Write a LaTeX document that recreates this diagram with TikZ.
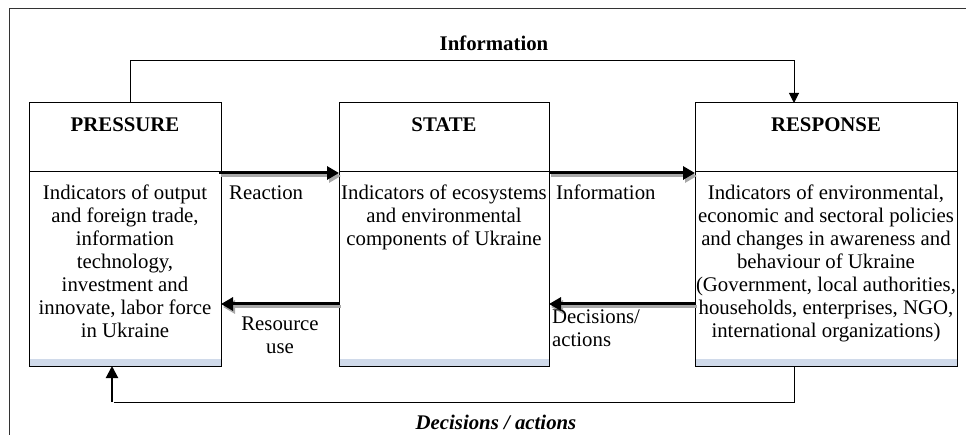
\documentclass[tikz,border=0pt]{standalone}
\usepackage{fontspec}
\setmainfont{Liberation Serif}
\usetikzlibrary{arrows.meta}
\definecolor{band}{HTML}{D0DAEA}
\definecolor{shade}{HTML}{A8A8A8}
\newcommand{\fs}{\fontsize{20.8}{23}\selectfont}
\tikzset{
  boxframe/.style={draw=black, line width=1pt},
  bodytext/.style={anchor=north, align=center, inner sep=0pt, font=\fs},
  headtext/.style={anchor=center, inner sep=0pt, font=\fs\bfseries},
  lbl/.style={inner sep=0pt, font=\fs},
  thickarrow/.style={line width=3pt, -{Triangle[length=12pt,width=13pt]}},
  shadowarrow/.style={line width=3pt, draw=shade, -{Triangle[length=12pt,width=13pt]}},
  thinline/.style={line width=1pt},
}
\begin{document}
\begin{tikzpicture}[x=1pt,y=-1pt]
\useasboundingbox (0,0) rectangle (966,435);
% outer frame (top and left only)
\draw[line width=1pt, draw=black!80] (9,435) -- (9,9) -- (966,9);

% boxes
\foreach \n/\xa/\xb in {P/29/221, S/339/549, R/695/957}{
  \fill[band] (\xa,359) rectangle (\xb,366);
  \draw[boxframe] (\xa,103) rectangle (\xb,366);
  \draw[boxframe] (\xa,172) -- (\xb,172);
  \coordinate (\n nw) at (\xa,103);
}
\coordinate (Ptop) at (130,103);
\coordinate (Rtop) at (794,103);
\coordinate (Pbot) at (112,366);
\coordinate (Rbot) at (794,366);
\coordinate (Ptl) at (130,61);
\coordinate (Rtl) at (794,61);
\coordinate (Rbl) at (794,402);
\coordinate (Pbl) at (112,402);

% headings
\node[headtext] (hP) at (125,125) {PRESSURE};
\node[headtext] (hS) at (444,125) {STATE};
\node[headtext] (hR) at (826,125) {RESPONSE};

% bodies
\node[bodytext] (bP) at (125,185) {Indicators of output\\and foreign trade,\\information\\technology,\\investment and\\innovate, labor force\\in Ukraine};
\node[bodytext] (bS) at (444,185) {Indicators of ecosystems\\and environmental\\components of Ukraine};
\node[bodytext] (bR) at (826,185) {Indicators of environmental,\\economic and sectoral policies\\and changes in awareness and\\behaviour of Ukraine\\(Government, local authorities,\\households, enterprises, NGO,\\international organizations)};

% horizontal arrow anchor points
\coordinate (aP1) at (219,173);
\coordinate (aS1) at (339,173);
\coordinate (aS2) at (549,173);
\coordinate (aR2) at (695,173);
\coordinate (bS1) at (339,304);
\coordinate (bP1) at (221,304);
\coordinate (bR2) at (695,304);
\coordinate (bS2) at (549,304);

% shadows
\draw[shadowarrow] ([shift={(2,3)}]aP1) -- ([shift={(2,3)}]aS1);
\draw[shadowarrow] ([shift={(2,3)}]aS2) -- ([shift={(2,3)}]aR2);
\draw[shadowarrow] ([shift={(2,3)}]bS1) -- ([shift={(2,3)}]bP1);
\draw[shadowarrow] ([shift={(2,3)}]bR2) -- ([shift={(2,3)}]bS2);
% arrows
\draw[thickarrow] (aP1) -- (aS1);
\draw[thickarrow] (aS2) -- (aR2);
\draw[thickarrow] (bS1) -- (bP1);
\draw[thickarrow] (bR2) -- (bS2);

% arrow labels
\node[lbl, anchor=base west] (lReact) at (229,200) {Reaction};
\node[lbl, anchor=base west] (lInfo) at (556,200) {Information};
\node[lbl, anchor=north, align=center] (lRes) at (280,317) {Resource\\use};
\node[lbl, anchor=north west, align=left] (lDec) at (552,310) {Decisions/\\actions};

% feedback loops
\draw[thinline, -{Triangle[length=10pt,width=10pt]}] (Ptop) -- (Ptl) -- (Rtl) -- (Rtop);
\node[lbl, font=\fs\bfseries] (lTop) at (494,43) {Information};
\draw[thinline] (Rbot) -- (Rbl) -- (114,402);
\draw[line width=2pt, -{Triangle[length=12pt,width=12pt]}] (Pbl) -- (Pbot);
\node[lbl, font=\fs\bfseries\itshape] (lBot) at (496,422) {Decisions / actions};
\end{tikzpicture}
\end{document}
